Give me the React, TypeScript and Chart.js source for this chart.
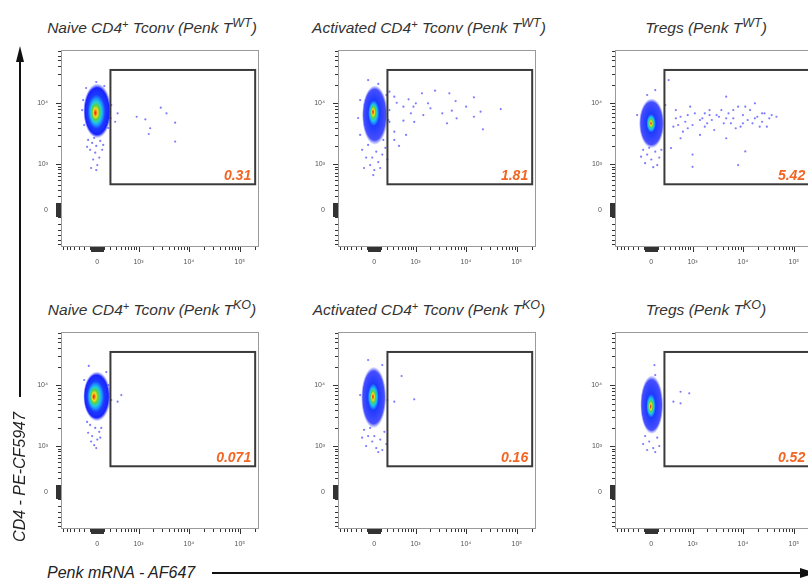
import React, { useEffect, useRef } from 'react';
import { Chart, registerables } from 'chart.js';

Chart.register(...registerables);

// ---------- data ----------
const CELL_NAMES: [string, string, string][] = [
  ['Naive CD4', '+', ' Tconv'],
  ['Activated CD4', '+', ' Tconv'],
  ['Tregs', '', ''],
];
const GENOTYPES = ['WT', 'KO'];
const PCT_WT = ['0.31', '1.81', '5.42'];
const PCT_KO = ['0.071', '0.16', '0.52'];

// gate limits (Penk, CD4)
const GATE_X = [200, 200000];
const GATE_Y = [410, 35000];

// axis limits
const X_LIM = [-790, 237700];
const Y_LIM = [-695, 74000];
const X_MAJOR = [0, 1000, 10000, 100000];
const X_MAJOR_LABELS = ['0', '10³', '10⁴', '10⁵'];
const Y_MAJOR = [0, 1000, 10000];
const Y_MAJOR_LABELS = ['0', '10³', '10⁴'];

// dense populations: peak, extent in Penk and CD4, density
const naiveWTCore = { peak: [-30, 6950], x: [-215, 215], y: [2700, 21000], heat: 1 };
const activatedWTCore = { peak: [-20, 7300], x: [-185, 205], y: [2100, 19500], heat: 0.7 };
const tregWTCore = { peak: [-5, 4720], x: [-185, 195], y: [1850, 12000], heat: 0.6 };
const naiveKOCore = { peak: [-54, 6530], x: [-215, 205], y: [2600, 16800], heat: 1 };
const activatedKOCore = { peak: [-20, 6530], x: [-200, 180], y: [2000, 20000], heat: 0.7 };
const tregKOCore = { peak: [-10, 4480], x: [-165, 180], y: [1600, 14500], heat: 0.65 };

// sparse events [Penk, CD4]
const naiveWTEvents = [
  [-136, 2520], [-75, 2255], [-15, 2010], [43, 2430], [-105, 1730], [-30, 1550], [28, 1285],
  [-60, 1190], [0, 953], [-90, 846], [-15, 777], [71, 1730], [-152, 1940], [-45, 2720], [86, 2090],
  [-236, 7780], [-218, 11320], [198, 5770], [215, 9390], [-168, 17780], [102, 19150], [-15, 22300],
  [165, 3960], [-200, 4430],
  [335, 6870], [916, 6050], [1378, 5490], [2790, 8490], [3620, 6870], [1720, 3920], [1612, 3160],
  [5360, 4830], [5360, 2370], [286, 5010], [198, 5700],
];
const activatedWTEvents = [
  [-184, 1730], [-120, 1285], [-60, 953], [0, 777], [57, 1075], [117, 1440], [165, 1870], [-90, 2090],
  [28, 1610], [86, 846], [-152, 846], [-30, 1285], [133, 2520], [-218, 3050], [198, 1190], [-15, 630],
  [-90, 23990], [57, 20700], [-218, 11320], [181, 13680], [215, 5350], [-254, 5770],
  [235, 15490], [328, 12830], [380, 10230], [235, 7780], [550, 8810], [1015, 10000], [1350, 14560],
  [2470, 16070], [4730, 14560], [6280, 10910], [14350, 12540], [19400, 7310], [48300, 8070],
  [800, 6870], [550, 5210], [940, 4970], [4260, 4720], [6560, 5700], [14350, 6050], [21600, 3770],
  [328, 3450], [630, 3050], [435, 2010], [5280, 7590], [2000, 8300], [10100, 8810], [235, 4970],
  [328, 2520], [1440, 6450], [3430, 6870], [906, 8810], [1790, 10000], [715, 11620],
];
const tregWTEvents = [
  [-120, 1730], [-60, 1440], [0, 1190], [57, 1610], [117, 1285], [-90, 1030], [28, 876], [-30, 1870],
  [150, 1730], [-152, 1330], [86, 953],
  [57, 16480], [-60, 13680], [-218, 6450], [215, 9390],
  [275, 23990], [430, 7780], [554, 6050], [488, 4430], [706, 5010], [894, 8810], [1118, 6870],
  [1580, 5700], [1770, 4160], [2200, 7780], [2440, 5350], [3380, 6050], [4200, 4720], [4690, 12830],
  [5210, 6870], [6470, 5700], [8050, 8810], [8980, 4160], [10000, 6450], [12400, 5350], [13830, 7780],
  [17200, 10000], [19190, 6050], [21380, 4160], [26490, 6870], [32930, 5700], [36700, 6450],
  [45500, 6050], [322, 1850], [1000, 1440], [8050, 953], [11120, 1630], [1000, 890], [4690, 2690],
  [627, 3450], [1420, 3050], [2720, 3670], [7220, 3920], [15420, 4720], [1970, 4720], [795, 6450],
  [3770, 7780], [11120, 8810], [23770, 5010], [29510, 4160], [5810, 4720], [3030, 6450], [373, 4160],
  [554, 2690], [1420, 5350], [1000, 4430], [2200, 6450], [6470, 7780], [17200, 5700], [4690, 5700],
  [10000, 4720], [23770, 6870], [1770, 6870], [430, 5700], [795, 3920],
];
const naiveKOEvents = [
  [-105, 2255], [-30, 2010], [28, 1730], [-75, 1470], [0, 1285], [-136, 1670], [-45, 1030], [43, 1380],
  [-15, 917], [-90, 1190], [57, 2010], [-152, 2520],
  [-200, 12220], [165, 10120], [215, 5770], [133, 16480], [-126, 20700],
  [335, 5410], [417, 6950],
];
const activatedKOEvents = [
  [-152, 1870], [-90, 1470], [-30, 1190], [28, 917], [86, 1285], [150, 1730], [-120, 992], [0, 1470],
  [117, 846], [-60, 2010], [57, 777], [-184, 1380], [181, 1075],
  [-90, 25880], [117, 21400], [-218, 6950], [198, 5770],
  [500, 14190], [328, 5410], [940, 5910],
];
const tregKOEvents = [
  [-90, 1470], [-30, 1190], [28, 917], [86, 1380], [0, 1870], [-120, 1075], [117, 992], [57, 777],
  [-60, 846],
  [57, 14720], [45, 21400],
  [554, 7870], [855, 7410], [373, 5410], [554, 5090],
];

// ---------- biexponential display transform ----------
const WX = 159;
const WY = 184;
const tx = (v: number) => Math.asinh(v / (2 * WX)) / Math.LN10 + Math.log10(WX);
const ty = (v: number) => Math.asinh(v / (2 * WY)) / Math.LN10 + Math.log10(WY);

function tickValues(min: number, max: number) {
  const out: { v: number; big: boolean }[] = [{ v: 0, big: true }];
  for (const p of [10, 100, 1000, 10000, 100000]) {
    for (let k = 1; k <= 9; k++) {
      const v = k * p;
      const big = p === 10 || (k === 1 && p >= 1000);
      if (v <= max) out.push({ v, big });
      if (-v >= min) out.push({ v: -v, big: p === 10 });
    }
  }
  return out;
}

const FONT = '"Liberation Sans", Arial, sans-serif';
const YAXW = 40;
const PAD_T = 6;
const PAD_R = 6;
const XAXH = 30;
const PLOT_W = 198;
const PLOT_H = 197;

type Core = { peak: number[]; x: number[]; y: number[]; heat: number };

function Panel(props: { left: number; top: number; events: number[][]; core: Core; pct: string }) {
  const ref = useRef<HTMLCanvasElement>(null);
  const W = YAXW + PLOT_W + PAD_R;
  const H = PAD_T + PLOT_H + XAXH;
  useEffect(() => {
    const { events, core, pct } = props;
    const plugin = {
      id: 'fcs',
      beforeDatasetsDraw(chart: any) {
        const { ctx, chartArea: a, scales } = chart;
        const sx = scales.x, sy = scales.y;
        const xl = sx.getPixelForValue(tx(core.x[0]));
        const xr = sx.getPixelForValue(tx(core.x[1]));
        const yt = sy.getPixelForValue(ty(core.y[1]));
        const yb = sy.getPixelForValue(ty(core.y[0]));
        const px = sx.getPixelForValue(tx(core.peak[0]));
        const py = sy.getPixelForValue(ty(core.peak[1]));
        const cx = (xl + xr) / 2, cy = (yt + yb) / 2;
        const rx = (xr - xl) / 2, ry = (yb - yt) / 2;
        ctx.save();
        ctx.beginPath();
        ctx.rect(a.left, a.top, a.right - a.left, a.bottom - a.top);
        ctx.clip();
        ctx.translate(cx, cy);
        ctx.scale(rx, ry);
        const g = ctx.createRadialGradient((px - cx) / rx, (py - cy) / ry, 0, 0, 0, 1);
        const h = core.heat;
        const warm: [number, string][] = [
          [0, '#d7191c'], [0.08, '#f8761b'], [0.16, '#eee11c'], [0.26, '#5fcf40'],
          [0.38, '#1fd0d8'], [0.5, '#1e8cff'], [0.62, '#1d3bff'],
        ];
        warm.forEach(([p, c]) => g.addColorStop(p * h, c));
        g.addColorStop(0.86, h >= 1 ? 'rgba(18,28,255,0.97)' : 'rgba(30,40,255,0.82)');
        g.addColorStop(1, 'rgba(80,90,255,0.05)');
        ctx.fillStyle = g;
        ctx.beginPath();
        ctx.arc(0, 0, 1, 0, Math.PI * 2);
        ctx.fill();
        ctx.restore();
      },
      afterDatasetsDraw(chart: any) {
        const { ctx, scales } = chart;
        const x0 = scales.x.getPixelForValue(tx(GATE_X[0]));
        const x1 = scales.x.getPixelForValue(tx(GATE_X[1]));
        const y0 = scales.y.getPixelForValue(ty(GATE_Y[0]));
        const y1 = scales.y.getPixelForValue(ty(GATE_Y[1]));
        ctx.save();
        ctx.strokeStyle = '#3a3a3a';
        ctx.lineWidth = 2;
        ctx.strokeRect(x0, y1, x1 - x0, y0 - y1);
        ctx.fillStyle = '#f26522';
        ctx.font = `italic bold 14px ${FONT}`;
        ctx.textAlign = 'right';
        ctx.textBaseline = 'alphabetic';
        ctx.fillText(pct, x1 - 4, y0 - 4);
        ctx.restore();
      },
      afterDraw(chart: any) {
        const { ctx, chartArea: a, scales } = chart;
        ctx.save();
        ctx.strokeStyle = '#9a9a9a';
        ctx.lineWidth = 1;
        ctx.strokeRect(a.left + 0.5, a.top + 0.5, a.right - a.left - 1, a.bottom - a.top - 1);
        ctx.strokeStyle = '#333';
        ctx.beginPath();
        for (const t of tickValues(X_LIM[0], X_LIM[1])) {
          const p = Math.round(scales.x.getPixelForValue(tx(t.v))) + 0.5;
          if (p < a.left || p > a.right) continue;
          ctx.moveTo(p, a.bottom);
          ctx.lineTo(p, a.bottom + (t.big ? 5 : 3));
        }
        for (const t of tickValues(Y_LIM[0], Y_LIM[1])) {
          const p = Math.round(scales.y.getPixelForValue(ty(t.v))) + 0.5;
          if (p < a.top || p > a.bottom) continue;
          ctx.moveTo(a.left, p);
          ctx.lineTo(a.left - (t.big ? 5 : 3), p);
        }
        ctx.stroke();
        ctx.restore();
      },
    };
    const chart = new Chart(ref.current as HTMLCanvasElement, {
      type: 'scatter',
      data: {
        datasets: [
          {
            data: events.map(([x, y]) => ({ x: tx(x), y: ty(y) })),
            pointRadius: 1.1,
            pointBorderWidth: 0,
            backgroundColor: 'rgba(80,80,255,0.75)',
          },
        ],
      },
      options: {
        animation: false,
        responsive: false,
        devicePixelRatio: 1,
        events: [],
        layout: { padding: { left: 0, top: PAD_T, right: PAD_R, bottom: 0 } },
        plugins: { legend: { display: false }, tooltip: { enabled: false } },
        scales: {
          x: {
            type: 'linear',
            min: tx(X_LIM[0]),
            max: tx(X_LIM[1]),
            grid: { display: false, drawTicks: false },
            border: { display: false },
            afterBuildTicks: (s: any) => { s.ticks = X_MAJOR.map((v) => ({ value: tx(v) })); },
            afterFit: (s: any) => {
              s.height = XAXH;
              s.paddingLeft = 0; s.paddingRight = 0; s.paddingTop = 0; s.paddingBottom = 0;
            },
            ticks: {
              autoSkip: false, maxRotation: 0, padding: 11, color: '#555',
              font: { size: 7, family: FONT },
              callback: (_v: any, i: number) => X_MAJOR_LABELS[i],
            },
          },
          y: {
            type: 'linear',
            min: ty(Y_LIM[0]),
            max: ty(Y_LIM[1]),
            grid: { display: false, drawTicks: false },
            border: { display: false },
            afterBuildTicks: (s: any) => { s.ticks = Y_MAJOR.map((v) => ({ value: ty(v) })); },
            afterFit: (s: any) => {
              s.width = YAXW;
              s.paddingLeft = 0; s.paddingRight = 0; s.paddingTop = 0; s.paddingBottom = 0;
            },
            ticks: {
              autoSkip: false, padding: 13, color: '#555',
              font: { size: 7, family: FONT },
              callback: (_v: any, i: number) => Y_MAJOR_LABELS[i],
            },
          },
        },
      } as any,
      plugins: [plugin],
    });
    return () => chart.destroy();
  }, []);
  return (
    <canvas
      ref={ref}
      width={W}
      height={H}
      style={{ position: 'absolute', left: props.left - YAXW, top: props.top - PAD_T, width: W, height: H }}
    />
  );
}

const COL_LEFT = [61, 338, 615];
const ROW_TOP = [50, 332];
const TITLE_TOP = [18, 300];

function Title(props: { col: number; row: number }) {
  const [a, sup, b] = CELL_NAMES[props.col];
  const center = COL_LEFT[props.col] + PLOT_W / 2 - 8;
  return (
    <div
      style={{
        position: 'absolute', left: center - 160, width: 320, top: TITLE_TOP[props.row],
        textAlign: 'center', whiteSpace: 'nowrap', fontStyle: 'italic', fontSize: 15.5,
        lineHeight: '20px', color: '#333', fontFamily: FONT,
      }}
    >
      {a}
      {sup && <span style={{ fontSize: 11, verticalAlign: '0.45em', lineHeight: 0 }}>{sup}</span>}
      {b} (Penk T
      <span style={{ fontSize: 12.5, verticalAlign: '0.5em', lineHeight: 0 }}>{GENOTYPES[props.row]}</span>)
    </div>
  );
}

export default function App() {
  const panels = [
    { col: 0, row: 0, events: naiveWTEvents, core: naiveWTCore, pct: PCT_WT[0] },
    { col: 1, row: 0, events: activatedWTEvents, core: activatedWTCore, pct: PCT_WT[1] },
    { col: 2, row: 0, events: tregWTEvents, core: tregWTCore, pct: PCT_WT[2] },
    { col: 0, row: 1, events: naiveKOEvents, core: naiveKOCore, pct: PCT_KO[0] },
    { col: 1, row: 1, events: activatedKOEvents, core: activatedKOCore, pct: PCT_KO[1] },
    { col: 2, row: 1, events: tregKOEvents, core: tregKOCore, pct: PCT_KO[2] },
  ];
  return (
    <div
      style={{
        position: 'fixed', left: 0, top: 0, width: 808, height: 586, background: '#fff',
        overflow: 'hidden', fontFamily: FONT,
      }}
    >
      {panels.map((p, i) => (
        <React.Fragment key={i}>
          <Title col={p.col} row={p.row} />
          <Panel left={COL_LEFT[p.col]} top={ROW_TOP[p.row]} events={p.events} core={p.core} pct={p.pct} />
        </React.Fragment>
      ))}
      {/* CD4 axis arrow */}
      <div style={{ position: 'absolute', left: 19.2, top: 60, width: 1.6, height: 337, background: '#111' }} />
      <div
        style={{
          position: 'absolute', left: 15.5, top: 46, width: 0, height: 0,
          borderLeft: '4.5px solid transparent', borderRight: '4.5px solid transparent',
          borderBottom: '16px solid #111',
        }}
      />
      <div
        style={{
          position: 'absolute', left: 20, top: 477, transform: 'translate(-50%, -50%) rotate(-90deg)',
          whiteSpace: 'nowrap', fontStyle: 'italic', fontSize: 16, color: '#222', lineHeight: '18px',
        }}
      >
        CD4 - PE-CF5947
      </div>
      {/* Penk axis arrow */}
      <div
        style={{
          position: 'absolute', left: 47, top: 564, whiteSpace: 'nowrap', fontStyle: 'italic',
          fontSize: 16, color: '#222', lineHeight: '18px',
        }}
      >
        Penk mRNA - AF647
      </div>
      <div style={{ position: 'absolute', left: 212, top: 572, width: 590, height: 1.6, background: '#111' }} />
      <div
        style={{
          position: 'absolute', left: 800, top: 567.5, width: 0, height: 0,
          borderTop: '5.5px solid transparent', borderBottom: '5.5px solid transparent',
          borderLeft: '16px solid #111',
        }}
      />
    </div>
  );
}
